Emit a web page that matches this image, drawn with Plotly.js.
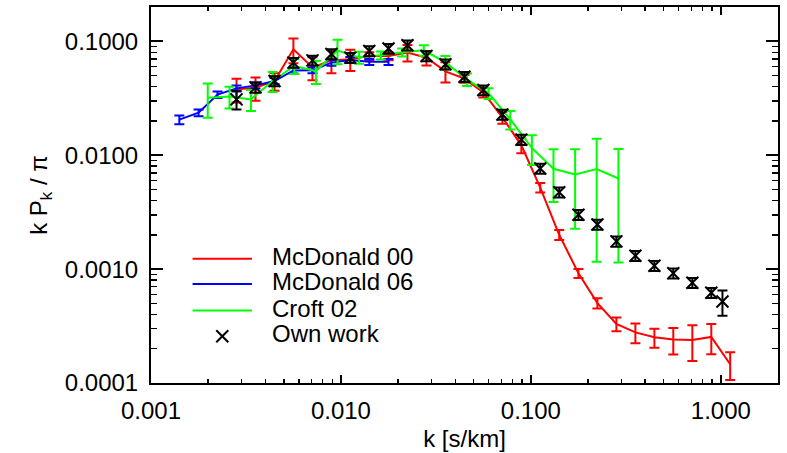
<!DOCTYPE html>
<html><head><meta charset="utf-8">
<script src="https://cdn.plot.ly/plotly-3.0.1.min.js"></script>
<style>html,body{margin:0;padding:0;background:#fff}</style>
</head><body>
<div id="chart" style="width:787px;height:453px"></div>
<script>
// McDonald 00 (red)
const kMcD00 = [0.00282, 0.00355, 0.00447, 0.00562, 0.00708, 0.00891, 0.0112, 0.0141, 0.0178, 0.0224, 0.0282, 0.0355, 0.0447, 0.0562, 0.0708, 0.0891, 0.112, 0.141, 0.178, 0.224, 0.282, 0.355, 0.447, 0.562, 0.708, 0.891, 1.12];
const pMcD00 = [0.038, 0.039, 0.0448, 0.085, 0.059, 0.068, 0.0695, 0.0743, 0.0743, 0.0796, 0.0717, 0.0545, 0.047, 0.0356, 0.0215, 0.0122, 0.0052, 0.0020, 0.00092, 0.000503, 0.00033, 0.000278, 0.000252, 0.000241, 0.000239, 0.000254, 0.000146];
const eMcD00 = [0.009, 0.009, 0.008, 0.021, 0.0134, 0.0157, 0.0146, 0.006, 0.006, 0.0133, 0.0104, 0.011, 0.0037, 0.0035, 0.0026, 0.0018, 0.0005, 0.0002, 0.000083, 0.000051, 0.000046, 0.000055, 0.000048, 0.000063, 0.000083, 0.000075, 0.00004];

// McDonald 06 (blue)
const kMcD06 = [0.00141, 0.00178, 0.00224, 0.00282, 0.00355, 0.00447, 0.00562, 0.00708, 0.00891, 0.0112, 0.0141, 0.0178];
const pMcD06 = [0.0205, 0.0236, 0.034, 0.0386, 0.041, 0.0448, 0.0555, 0.0556, 0.065, 0.0686, 0.066, 0.066];
const eMcD06 = [0.0018, 0.0016, 0.0022, 0.0024, 0.0025, 0.0027, 0.0033, 0.0033, 0.0039, 0.0041, 0.0040, 0.0040];

// Croft 02 (green)
const kCroft = [0.00199, 0.00259, 0.00336, 0.00437, 0.00568, 0.00738, 0.00959, 0.01246, 0.0162, 0.0210, 0.0273, 0.0355, 0.0461, 0.0599, 0.0779, 0.1012, 0.1315, 0.171, 0.222, 0.289];
const pCroft = [0.0319, 0.0328, 0.0309, 0.0448, 0.0607, 0.0548, 0.083, 0.0723, 0.0753, 0.080, 0.0834, 0.0653, 0.0463, 0.0349, 0.0206, 0.0116, 0.00759, 0.00676, 0.00756, 0.00624];
const eCroft = [0.0106, 0.0071, 0.0065, 0.009, 0.0092, 0.0127, 0.020, 0.0087, 0.006, 0.0064, 0.0088, 0.0089, 0.0059, 0.0038, 0.0038, 0.0034, 0.0037, 0.0045, 0.0064, 0.0051];

// Own work (black crosses)
const kOwn = [0.00282, 0.00355, 0.00447, 0.00562, 0.00708, 0.00891, 0.0112, 0.0141, 0.0178, 0.0224, 0.0282, 0.0355, 0.0447, 0.0562, 0.0708, 0.0891, 0.112, 0.141, 0.178, 0.224, 0.282, 0.355, 0.447, 0.562, 0.708, 0.891, 1.02];
const pOwn = [0.0309, 0.0394, 0.0448, 0.065, 0.068, 0.0773, 0.0719, 0.0822, 0.0863, 0.0922, 0.0743, 0.0628, 0.0488, 0.0373, 0.0228, 0.0137, 0.00764, 0.00473, 0.0030, 0.00246, 0.00175, 0.00131, 0.00107, 0.00092, 0.00076, 0.00062, 0.00052];
const eOwn = [0.0057, 0.0040, 0.0045, 0.0065, 0.0068, 0.0077, 0.0072, 0.0082, 0.0086, 0.0092, 0.0074, 0.0063, 0.0049, 0.0037, 0.0023, 0.0014, 0.00076, 0.00047, 0.00030, 0.00025, 0.00018, 0.00013, 0.00011, 0.000092, 0.000076, 0.000062, 0.00013];

const legendNames = ['McDonald 00', 'McDonald 06', 'Croft 02', 'Own work'];
const FONT = 'Liberation Sans, Arial, Helvetica, sans-serif';

function lineTrace(name, k, p, e, color) {
  return {
    type: 'scatter', mode: 'lines', name: name, x: k, y: p,
    line: {color: color, width: 2},
    error_y: {type: 'data', array: e, visible: true, color: color, thickness: 2, width: 5},
    showlegend: false
  };
}

const traces = [
  lineTrace(legendNames[0], kMcD00, pMcD00, eMcD00, '#ff0000'),
  lineTrace(legendNames[1], kMcD06, pMcD06, eMcD06, '#0000ff'),
  lineTrace(legendNames[2], kCroft, pCroft, eCroft, '#00ff00'),
  {
    type: 'scatter', mode: 'markers', name: legendNames[3], x: kOwn, y: pOwn,
    marker: {symbol: 'x-thin', size: 12, color: '#000', line: {width: 2, color: '#000'}},
    error_y: {type: 'data', array: eOwn, visible: true, color: '#000', thickness: 2, width: 5},
    showlegend: false
  }
];

// custom legend (paper coordinates)
const legColors = ['#ff0000', '#0000ff', '#00ff00'];
const legRows = [0.3303, 0.2631, 0.1929, 0.1244];
const shapes = [];
const annotations = [];
for (let i = 0; i < 3; i++) {
  shapes.push({type: 'line', xref: 'paper', yref: 'paper', x0: 0.0663, x1: 0.161, y0: legRows[i], y1: legRows[i],
    line: {color: legColors[i], width: 2}});
}
// cross symbol for "Own work"
shapes.push({type: 'line', xref: 'paper', yref: 'paper', x0: 0.1041, x1: 0.1233, y0: legRows[3] - 0.016, y1: legRows[3] + 0.016, line: {color: '#000', width: 2}});
shapes.push({type: 'line', xref: 'paper', yref: 'paper', x0: 0.1041, x1: 0.1233, y0: legRows[3] + 0.016, y1: legRows[3] - 0.016, line: {color: '#000', width: 2}});
for (let i = 0; i < 4; i++) {
  annotations.push({xref: 'paper', yref: 'paper', x: 0.189, y: legRows[i] + 0.006, xanchor: 'left', yanchor: 'middle',
    text: legendNames[i], showarrow: false, font: {family: FONT, size: 24, color: '#000'}});
}

const axisCommon = {
  type: 'log', showline: true, linewidth: 2, linecolor: '#000', mirror: 'ticks',
  ticks: 'inside', tickwidth: 2, tickcolor: '#000', dtick: 1,
  showgrid: false, zeroline: false,
  tickfont: {family: FONT, size: 24, color: '#000'}
};

const layout = {
  width: 787, height: 453,
  margin: {l: 151, r: 9, t: 7, b: 70, pad: 0},
  paper_bgcolor: '#fff', plot_bgcolor: '#fff',
  font: {family: FONT, size: 24, color: '#000'},
  showlegend: false,
  xaxis: Object.assign({}, axisCommon, {
    range: [-3, Math.log10(2)], ticklen: 8, tickformat: '.3f',
    minor: {ticks: 'inside', ticklen: 4, tickwidth: 1.5, tickcolor: '#000', dtick: 'D1', showgrid: false},
    ticklabelstandoff: 5,
    title: {text: 'k [s/km]', font: {family: FONT, size: 24, color: '#000'}, standoff: 7}
  }),
  yaxis: Object.assign({}, axisCommon, {
    range: [-4, Math.log10(0.2)], ticklen: 12, tickformat: '.4f',
    minor: {ticks: 'inside', ticklen: 6, tickwidth: 1.5, tickcolor: '#000', dtick: 'D1', showgrid: false},
    ticklabelstandoff: 6,
    title: {text: 'k P<sub>k</sub> / π', font: {family: FONT, size: 24, color: '#000'}, standoff: 10}
  }),
  shapes: shapes,
  annotations: annotations
};

Plotly.newPlot('chart', traces, layout, {displayModeBar: false, staticPlot: true});
</script>
</body></html>
